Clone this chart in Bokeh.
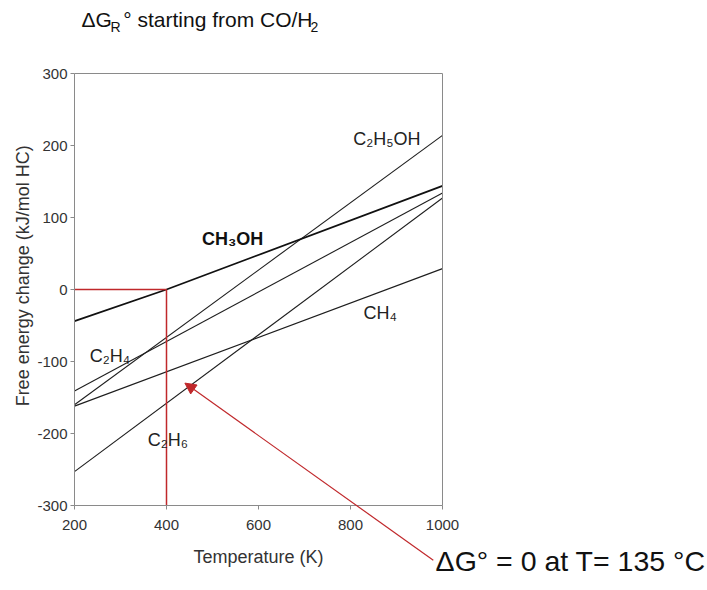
import math
from bokeh.plotting import figure
from bokeh.models import Range1d, Label, Arrow, NormalHead, FixedTicker, LinearAxis
from bokeh.embed import file_html
from bokeh.resources import INLINE

# ---- data ----
T_ends = [200, 1000]
c2h5oh = [-160, 214]
c2h4 = [-141, 134]
ch4 = [-162, 29]
c2h6 = [-253, 127]
ch3oh_T = [200, 400, 1000]
ch3oh = [-44, 0, 144]
x_ticks = [200, 400, 600, 800, 1000]
y_ticks = [-300, -200, -100, 0, 100, 200, 300]
x_lim = (200, 1000)
y_lim = (-300, 300)

FONT = "Liberation Sans"
RED = "#c0282b"
INK = "#1e1e1e"
AXC = "#8a8a8a"

# The frame spans the whole canvas; the chart box sits at px 74..442 x 73..505
ux = (x_lim[1] - x_lim[0]) / 368.0
uy = (y_lim[1] - y_lim[0]) / 432.0
p = figure(width=707, height=590,
           x_range=Range1d(x_lim[0] - 74 * ux, x_lim[1] + 265 * ux),
           y_range=Range1d(y_lim[0] - 85 * uy, y_lim[1] + 73 * uy),
           output_backend="svg", toolbar_location=None,
           x_axis_location=None, y_axis_location=None, min_border=0)
p.grid.visible = False
p.outline_line_color = None
p.background_fill_color = "white"
p.border_fill_color = "white"


def style_axis(ax):
    ax.axis_line_color = AXC
    ax.major_tick_line_color = AXC
    ax.minor_tick_line_color = None
    ax.major_tick_in = 0
    ax.major_tick_out = 4
    ax.major_label_text_font = FONT
    ax.major_label_text_font_size = "15px"
    ax.major_label_text_color = "#333333"
    ax.axis_label_text_font = FONT
    ax.axis_label_text_font_size = "18px"
    ax.axis_label_text_font_style = "normal"
    ax.axis_label_text_color = "#333333"


xax = LinearAxis(fixed_location=y_lim[0], bounds=x_lim, ticker=FixedTicker(ticks=x_ticks),
                 axis_label="Temperature (K)")
style_axis(xax)
xax.major_label_standoff = 10
xax.axis_label_standoff = 14
p.add_layout(xax, "below")

yax = LinearAxis(fixed_location=x_lim[0], bounds=y_lim, ticker=FixedTicker(ticks=y_ticks))
style_axis(yax)
yax.major_label_overrides = {t: str(t) for t in y_ticks}
yax.major_label_standoff = 3
p.add_layout(yax, "left")

top = LinearAxis(fixed_location=y_lim[1], bounds=x_lim, ticker=FixedTicker(ticks=[]))
style_axis(top)
p.add_layout(top, "above")
right = LinearAxis(fixed_location=x_lim[1], bounds=y_lim, ticker=FixedTicker(ticks=[]))
style_axis(right)
p.add_layout(right, "right")

# series lines
p.line(T_ends, c2h5oh, line_color=INK, line_width=1.1)
p.line(T_ends, c2h4, line_color=INK, line_width=1.1)
p.line(T_ends, ch4, line_color=INK, line_width=1.1)
p.line(T_ends, c2h6, line_color=INK, line_width=1.1)
p.line(ch3oh_T, ch3oh, line_color="#111111", line_width=1.8)

# red guide lines at dG = 0 for CH3OH
T0 = ch3oh_T[1]
p.line([x_lim[0], T0], [0, 0], line_color=RED, line_width=1.5)
p.line([T0, T0], [0, y_lim[0]], line_color=RED, line_width=1.5)


def lab(x, y, text, size="18px", style="normal", color="#222222", angle=0.0,
        align="left", baseline="alphabetic"):
    p.add_layout(Label(x=x, y=y, text=text, text_font=FONT, text_font_size=size,
                       text_font_style=style, text_color=color, angle=angle,
                       text_baseline=baseline, text_align=align))


# y axis title
lab(89, 19, "Free energy change (kJ/mol HC)", color="#333333", angle=math.pi / 2,
    align="center", baseline="middle")

# series labels
lab(477, 70, "CH₃OH", style="bold", color="#111111")
lab(806, 209, "C₂H₅OH")
lab(828, -33, "CH₄")
lab(233, -93, "C₂H₄")
lab(359, -209, "C₂H₆")

# title pieces
lab(215, 375, "ΔG", size="21px", color="#111111")
lab(278, 364, "R", size="14px", color="#111111")
lab(306, 375, "° starting from CO/H", size="21px", color="#111111")
lab(713, 364, "2", size="14px", color="#111111")

# annotation
p.add_layout(Arrow(end=NormalHead(size=11, fill_color=RED, line_color=RED),
                   x_start=980, y_start=-376, x_end=440, y_end=-130,
                   line_color=RED, line_width=1.2))
lab(985, -377, "ΔG° = 0 at T= 135 °C", size="28.5px", color="#111111")

open("out.html", "w").write(file_html(p, INLINE))
